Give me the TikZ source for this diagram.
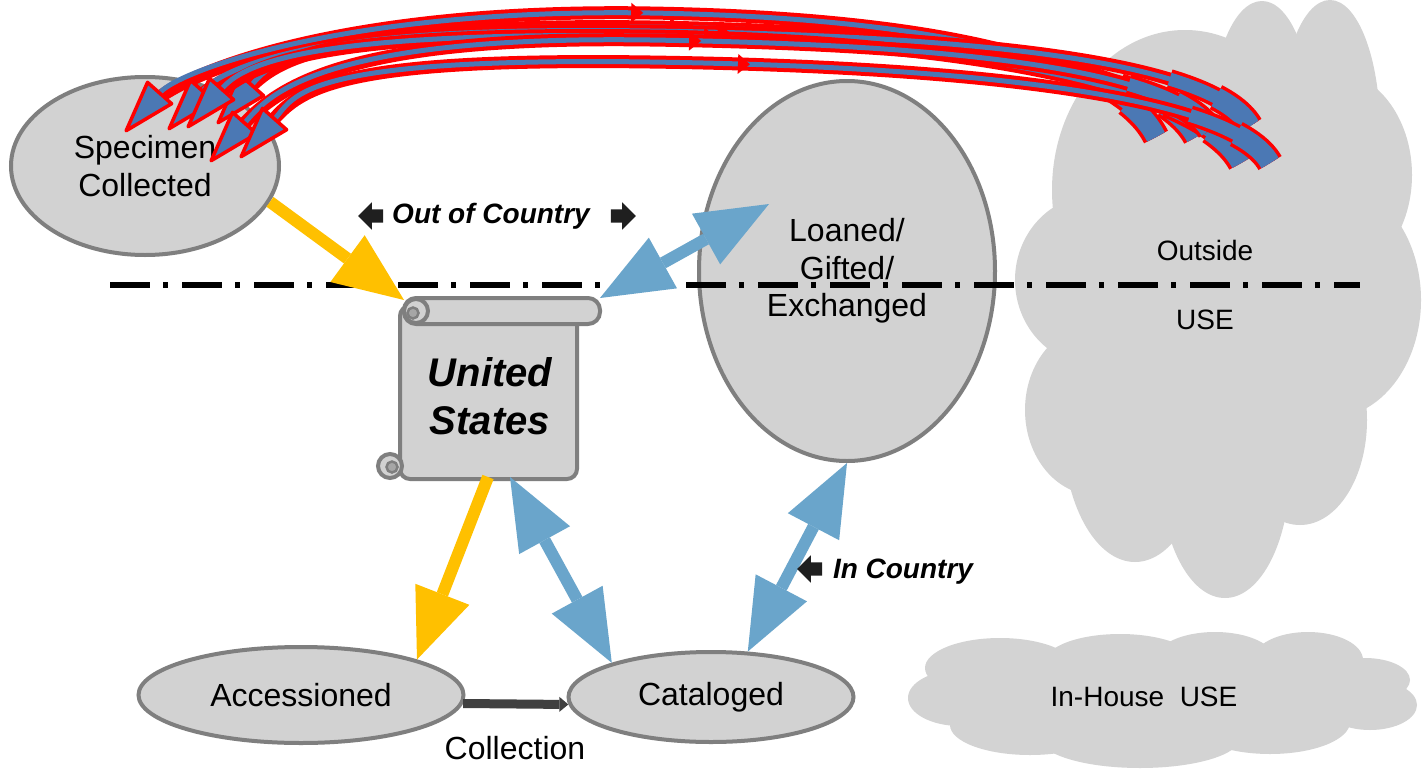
\documentclass[tikz,border=0pt]{standalone}
\usepackage{fontspec}
\setmainfont{Liberation Sans}
\usetikzlibrary{arrows.meta,shapes.geometric,shapes.arrows,decorations.markings}
\definecolor{stagefill}{RGB}{210,210,210}
\definecolor{stageedge}{RGB}{127,127,127}
\definecolor{curlgray}{RGB}{166,166,166}
\definecolor{cloudgray}{RGB}{211,211,211}
\definecolor{amber}{RGB}{255,192,0}
\definecolor{steelblue}{RGB}{106,165,203}
\definecolor{bandblue}{RGB}{75,120,180}
\definecolor{darkink}{RGB}{64,64,64}
\definecolor{pureRed}{RGB}{255,0,0}

\tikzset{
  stage/.style={ellipse, draw=stageedge, fill=stagefill, line width=4pt, inner sep=0pt,
                align=center, font=\fontsize{32}{37.5}\selectfont},
  puff/.style={fill=cloudgray},
  cloudtext/.style={font=\fontsize{28}{33}\selectfont},
  tagtext/.style={font=\fontsize{28}{33}\selectfont\bfseries\itshape},
  scrollpart/.style={draw=stageedge, fill=stagefill, line width=4pt},
  curl/.style={draw=stageedge, fill=curlgray, line width=2.5pt},
  yellowflow/.style={draw=amber, line width=12pt,
                     -{Triangle[length=70pt,width=58pt,line width=0pt]}},
  blueflow/.style={draw=steelblue, line width=12pt,
                   {Triangle[length=72pt,width=58pt,line width=0pt]}-{Triangle[length=72pt,width=58pt,line width=0pt]}},
  returnflow/.style={draw=bandblue, line width=5pt,
                     preaction={draw=pureRed, line width=13pt, -, shorten >=30pt},
                     preaction={draw=pureRed, line width=27pt, -, dash pattern=on 45pt off 3000pt},
                     preaction={draw=pureRed, line width=20pt, -, dash pattern=on 95pt off 3000pt},
                     preaction={draw=bandblue, line width=20pt, -, dash pattern=on 45pt off 3000pt},
                     preaction={draw=bandblue, line width=13pt, -, dash pattern=on 95pt off 3000pt},
                     -{Triangle[length=58pt,width=36pt,line width=3.5pt,round,color=pureRed,fill=bandblue]},
                     postaction={decorate, decoration={markings,
                       mark=at position 0.5 with {\arrowreversed{Triangle[length=12pt,width=20pt,line width=0pt,color=pureRed,fill=pureRed]}}}}},
  blockarrow/.style={single arrow, fill=black!88, inner sep=6.5pt, minimum height=25pt,
                     single arrow head extend=7pt},
}

\begin{document}
\begin{tikzpicture}[x=1pt, y=-1pt]
    \useasboundingbox (0,0) rectangle (1422,771);
    \fill[white] (0,0) rectangle (1422,771);

    % outside use cloud
    \fill[puff] (1185,190) ellipse (133 and 160);
    \fill[puff] (1262,120) ellipse (50 and 119);
    \fill[puff] (1330,130) ellipse (50 and 130);
    \fill[puff] (1330,175) ellipse (82 and 105);
    \fill[puff] (1330,300) ellipse (91 and 118);
    \fill[puff] (1300,420) ellipse (67 and 105);
    \fill[puff] (1225,470) ellipse (65 and 128);
    \fill[puff] (1135,430) ellipse (72 and 132);
    \fill[puff] (1095,410) ellipse (70 and 85);
    \fill[puff] (1095,280) ellipse (80 and 85);
    \fill[puff] (1215,300) ellipse (160 and 200);
    \node[cloudtext] (outside) at (1205,250) {Outside};
    \node[cloudtext] (outuse)  at (1205,320) {USE};

    % in-house cloud
    \fill[puff] (1000,668) ellipse (75 and 30);
    \fill[puff] (1120,662) ellipse (75 and 28);
    \fill[puff] (1215,660) ellipse (60 and 28);
    \fill[puff] (1308,660) ellipse (55 and 28);
    \fill[puff] (1365,680) ellipse (45 and 22);
    \fill[puff] (1370,705) ellipse (47 and 25);
    \fill[puff] ( 960,698) ellipse (52 and 28);
    \fill[puff] (1030,725) ellipse (80 and 30);
    \fill[puff] (1140,738) ellipse (100 and 30);
    \fill[puff] (1270,722) ellipse (80 and 32);
    \fill[puff] (1160,700) ellipse (200 and 40);
    \node[cloudtext] (inhouse) at (1144,697) {In-House~~USE};

    % stages
    \node[stage, minimum width=268pt, minimum height=178pt] (spec) at (145,166) {Specimen\\Collected};
    \node[stage, minimum width=296pt, minimum height=380pt] (loan) at (847,271) {Loaned/\\Gifted/\\Exchanged};
    \node[stage, minimum width=325pt, minimum height=96pt]  (acc)  at (301,695) {Accessioned};
    \node[stage, minimum width=285pt, minimum height=90pt]  (cat)  at (711,697) {Cataloged};

    % scroll
    \filldraw[scrollpart, rounded corners=10pt] (400,306) rectangle (577,479);
    \filldraw[scrollpart, rounded corners=12pt] (404,298) rectangle (600,324);
    \filldraw[scrollpart] (416,311) circle (12);
    \filldraw[curl]       (413,313) circle (5.5);
    \filldraw[scrollpart] (390,466) circle (12);
    \filldraw[curl]       (392,467) circle (5.5);
    \node[align=center, font=\fontsize{40}{48}\selectfont\bfseries\itshape] (us) at (490,396) {United\\States};
    \coordinate (usNW) at (404,300);
    \coordinate (usNE) at (600,298);
    \coordinate (usSL) at (488,477);
    \coordinate (usSR) at (510,477);
    \coordinate (loanIn) at (769,204);

    % border line
    \draw[line width=6.5pt, dash pattern=on 40pt off 13pt on 5pt off 14pt] (110,285) -- (1360,285);

    % flows
    \draw[yellowflow] (spec.-16) -- (usNW);
    \draw[yellowflow] (usSL) -- (acc.17);
    \draw[blueflow] (usSR) -- (cat.161);
    \draw[blueflow] (cat.51) -- (loan.south);
    \draw[blueflow] (usNE) -- (loanIn);
    \draw[darkink, line width=9pt, -{Triangle[length=9pt,width=15pt,line width=0pt]}] (acc.-3) -- (cat.183);
    \node[font=\fontsize{32}{37.5}\selectfont] (collect) at (515,748) {Collection};

    % returns from outside
    \coordinate (endA) at (1156,137); \coordinate (tipA) at (125,132);
    \coordinate (endB) at (1196,137); \coordinate (tipB) at (168,130);
    \coordinate (endC) at (1250,126); \coordinate (tipC) at (217,124);
    \coordinate (endD) at (1241,163); \coordinate (tipD) at (187,128);
    \coordinate (endE) at (1210,130); \coordinate (tipE) at (210,162);
    \coordinate (endF) at (1270,163); \coordinate (tipF) at (240,158);
    \draw[returnflow] (endA) .. controls (1120,65)  and (950,18)  .. (650,13) .. controls (350,8)  and (180,70)  .. (tipA);
    \draw[returnflow] (endB) .. controls (1160,70)  and (980,32)  .. (650,27) .. controls (320,22) and (223,68)  .. (tipB);
    \draw[returnflow] (endC) .. controls (1215,65)  and (1000,36) .. (650,31) .. controls (300,26) and (272,62)  .. (tipC);
    \draw[returnflow] (endD) .. controls (1205,95)  and (1000,41) .. (650,36) .. controls (300,31) and (242,66)  .. (tipD);
    \draw[returnflow] (endE) .. controls (1175,75)  and (990,45)  .. (650,40) .. controls (310,35) and (265,100) .. (tipE);
    \draw[returnflow] (endF) .. controls (1235,100) and (1000,67) .. (650,62) .. controls (300,57) and (295,96)  .. (tipF);

    % tags
    \node[tagtext] (outcountry) at (491,216) {Out of Country};
    \node[blockarrow, shape border rotate=180] (outleft) at (374,216) {};
    \node[blockarrow] (outright) at (620,216) {};
    \node[tagtext] (incountry) at (903,572) {In Country};
    \node[blockarrow, shape border rotate=180] (inleft) at (813,569) {};
\end{tikzpicture}
\end{document}
